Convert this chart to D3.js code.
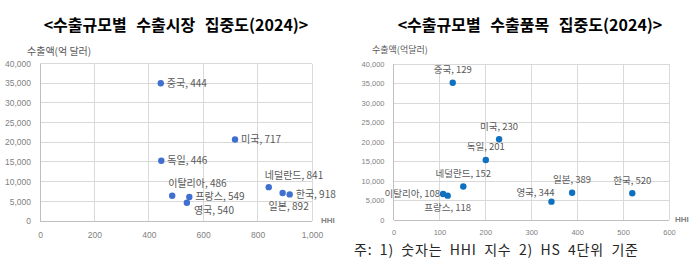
<!DOCTYPE html>
<html><head><meta charset="utf-8">
<script src="https://cdn.jsdelivr.net/npm/d3@7"></script>
<style>
body{margin:0;background:#fff;}
svg{display:block;font-family:"Noto Sans CJK KR","Noto Sans",sans-serif;}
</style></head>
<body><svg id="c" width="700" height="269"></svg>
<script>
// ---- data ----
const marketCountries = ["중국","미국","독일","이탈리아","프랑스","영국","네덜란드","일본","한국"];
const marketHHI       = [444, 717, 446, 486, 549, 540, 841, 892, 918];
const marketExports   = [35000, 20700, 15300, 6400, 6100, 4650, 8600, 7100, 6750];

const productCountries = ["중국","미국","독일","네덜란드","이탈리아","프랑스","영국","일본","한국"];
const productHHI       = [129, 230, 201, 152, 108, 118, 344, 389, 520];
const productExports   = [35200, 20700, 15400, 8600, 6650, 6250, 4700, 7000, 6850];

const leftXTicks  = [0, 200, 400, 600, 800, 1000];
const rightXTicks = [0, 100, 200, 300, 400, 500, 600];
const yTicks      = [0, 5000, 10000, 15000, 20000, 25000, 30000, 35000, 40000];

const leftTitle  = "<수출규모별 수출시장 집중도(2024)>";
const rightTitle = "<수출규모별 수출품목 집중도(2024)>";
const leftYTitle = "수출액(억 달러)";
const rightYTitle = "수출액(억달러)";
const noteText = "주: 1) 숫자는 HHI 지수 2) HS 4단위 기준";

// label placement (style, not data)
const leftPlace = {"중국":"right","미국":"right","독일":"right","이탈리아":"aboveR","프랑스":"right","영국":"belowR","네덜란드":"aboveR","일본":"belowL","한국":"right"};
const rightPlace = {"중국":"above","미국":"above","독일":"above","네덜란드":"above","이탈리아":"left","프랑스":"below","영국":"aboveL","일본":"above","한국":"above"};

const svg = d3.select("#c");
const fmt = d3.format(",");

function panel(o){
  const g = svg.append("g");
  const x = d3.scaleLinear().domain(o.xDomain).range([o.x0, o.x1]);
  const y = d3.scaleLinear().domain([0, 40000]).range([o.y0, o.y1]);
  // grid
  g.selectAll(".hg").data(yTicks.slice(1)).join("line")
    .attr("x1", o.x0).attr("x2", o.x1).attr("y1", d=>y(d)).attr("y2", d=>y(d))
    .attr("stroke", "#d9d9d9").attr("stroke-width", 1).attr("shape-rendering","crispEdges");
  g.selectAll(".vg").data(o.xTicks.slice(1)).join("line")
    .attr("y1", o.y0).attr("y2", o.y1).attr("x1", d=>x(d)).attr("x2", d=>x(d))
    .attr("stroke", "#d9d9d9").attr("stroke-width", 1).attr("shape-rendering","crispEdges");
  // axes lines
  g.append("line").attr("x1", o.x0).attr("x2", o.x1).attr("y1", o.y0).attr("y2", o.y0)
    .attr("stroke", "#bfbfbf").attr("shape-rendering","crispEdges");
  g.append("line").attr("x1", o.x0).attr("x2", o.x0).attr("y1", o.y0).attr("y2", o.y1)
    .attr("stroke", "#bfbfbf").attr("shape-rendering","crispEdges");
  // axes via d3 (labels only)
  const ya = g.append("g").attr("transform", `translate(${o.x0},0)`)
    .call(d3.axisLeft(y).tickValues(yTicks).tickFormat(fmt).tickSize(0).tickPadding(o.yPad));
  ya.select(".domain").remove();
  ya.selectAll("text").attr("fill", "#7f7f7f").attr("font-size", o.tickFs).attr("font-family","'Liberation Sans',Arial,sans-serif");
  const xa = g.append("g").attr("transform", `translate(0,${o.y0})`)
    .call(d3.axisBottom(x).tickValues(o.xTicks).tickFormat(fmt).tickSize(0).tickPadding(o.xPad));
  xa.select(".domain").remove();
  xa.selectAll("text").attr("fill", "#7f7f7f").attr("font-size", o.tickFs).attr("font-family","'Liberation Sans',Arial,sans-serif");
  // titles
  g.append("text").attr("x", o.titleX).attr("y", 31).attr("text-anchor","middle")
    .attr("font-size", 16).attr("font-weight", "bold").attr("fill", "#000")
    .attr("word-spacing", 6).text(o.title);
  g.append("text").attr("x", o.yTitleX).attr("y", o.yTitleY).attr("font-size", o.yTitleFs)
    .attr("fill", "#595959").text(o.yTitle);
  g.append("text").attr("x", o.hhiX).attr("y", o.hhiY).attr("font-size", 8).attr("font-weight","bold")
    .attr("fill", "#7f7f7f").attr("font-family","'Liberation Sans',Arial,sans-serif").text("HHI");
  // points
  const data = o.names.map((n,i)=>({n, h:o.hhi[i], v:o.exp[i]}));
  g.selectAll("circle").data(data).join("circle")
    .attr("cx", d=>x(d.h)).attr("cy", d=>y(d.v)).attr("r", 3.2).attr("fill", o.color);
  const off = {
    right:  [6, 0, "start"],
    left:   [-3, 0, "end"],
    above:  [0, -13, "middle"],
    below:  [0, 12, "middle"],
    aboveR: [-4, -12, "start"],
    aboveL: [3, -9, "end"],
    belowR: [7, 8, "start"],
    belowL: [-14, 13, "start"]
  };
  g.selectAll(".lbl").data(data).join("text")
    .attr("x", d=>x(d.h) + off[o.place[d.n]][0])
    .attr("y", d=>y(d.v) + off[o.place[d.n]][1])
    .attr("dy", "0.35em")
    .attr("text-anchor", d=>off[o.place[d.n]][2])
    .attr("font-size", o.lblFs).attr("fill", "#595959")
    .text(d=>`${d.n}, ${d.h}`);
}

panel({xDomain:[0,1000], x0:40, x1:312, y0:221, y1:63.5, xTicks:leftXTicks,
  names:marketCountries, hhi:marketHHI, exp:marketExports, place:leftPlace,
  color:"#3f6fcf", title:leftTitle, titleX:176, yTitle:leftYTitle, yTitleX:27, yTitleY:55, yTitleFs:10,
  hhiX:321, hhiY:223, tickFs:8.5, yPad:9, xPad:11, lblFs:10});
panel({xDomain:[0,600], x0:393.5, x1:669, y0:220, y1:64, xTicks:rightXTicks,
  names:productCountries, hhi:productHHI, exp:productExports, place:rightPlace,
  color:"#0f70c0", title:rightTitle, titleX:530, yTitle:rightYTitle, yTitleX:372, yTitleY:53, yTitleFs:9,
  hhiX:675, hhiY:222, tickFs:7.5, yPad:9, xPad:10, lblFs:9.5});

svg.append("text").attr("x", 354).attr("y", 255).attr("font-size", 14).attr("fill", "#262626")
  .attr("letter-spacing", 0.8).attr("word-spacing", 3.5).text(noteText);
</script></body></html>
